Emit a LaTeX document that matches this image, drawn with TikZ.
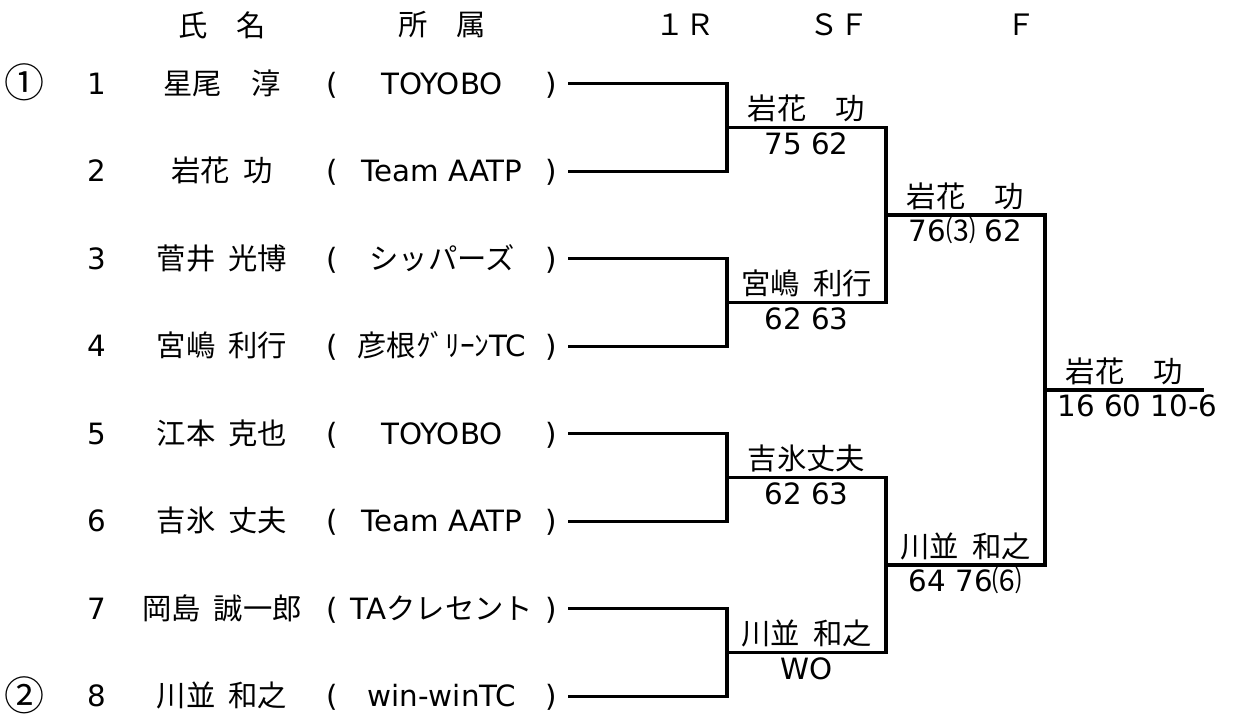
\documentclass[tikz,border=0pt]{standalone}
\usepackage{fontspec}
\setmainfont{DejaVu Sans}
\newfontfamily\jp[WordSpace=2]{Noto Sans CJK JP}

\tikzset{
  row/.style = {anchor=base, yshift=-8pt},
  seed/.style = {row, xshift=-408pt, yshift=-2.5pt},
  win/.style = {anchor=base, xshift=59.6pt, yshift=6pt},
  res/.style = {anchor=base, xshift=59.6pt, yshift=-20pt}
}

\begin{document}
\begin{tikzpicture}[x=0.75pt, y=-0.75pt, line width=2.3pt,
  font=\fontsize{22pt}{26pt}\selectfont,
  grow=left, level distance=119.25pt,
  level 1/.style={sibling distance=262.5pt},
  level 2/.style={sibling distance=131.25pt},
  level 3/.style={sibling distance=65.625pt},
  edge from parent path={(\tikzparentnode) |- (\tikzchildnode)}]

  \useasboundingbox (0,0) rectangle (1252,715);

  % header
  \node (hname) at (222,25) {\jp 氏　名};
  \node (hclub) at (442,25) {\jp 所　属};
  \node (hr1) at (685,25) {\jp １Ｒ};
  \node (hsf) at (839,25) {\jp ＳＦ};
  \node (hf) at (1021,25) {\jp Ｆ};

  % draw
  \node[coordinate] (top) at (1045,390) {}
    child { node[coordinate] (f1) {}
      child { node[coordinate] (sf1) {}
        child { node[coordinate] (r1) {} }
        child { node[coordinate] (r2) {} } }
      child { node[coordinate] (sf2) {}
        child { node[coordinate] (r3) {} }
        child { node[coordinate] (r4) {} } } }
    child { node[coordinate] (f2) {}
      child { node[coordinate] (sf3) {}
        child { node[coordinate] (r5) {} }
        child { node[coordinate] (r6) {} } }
      child { node[coordinate] (sf4) {}
        child { node[coordinate] (r7) {} }
        child { node[coordinate] (r8) {} } } };
  \coordinate (champ) at (1204,390);
  \draw (top) -- (champ);

  % players
  \foreach \i/\nm/\club in {1/{星尾　淳}/TOYOBO, 2/{岩花 功}/Team AATP,
      3/{菅井 光博}/{\jp シッパーズ}, 4/{宮嶋 利行}/{{\jp 彦根ｸﾞﾘｰﾝ}TC},
      5/{江本 克也}/TOYOBO, 6/{吉氷 丈夫}/Team AATP,
      7/{岡島 誠一郎}/{TA{\jp クレセント}}, 8/{川並 和之}/win-winTC} {
    \node[row, xshift=-353.25pt] (num\i) at (r\i) {\i};
    \node[row, xshift=-259.5pt] (name\i) at (r\i) {\jp\nm};
    \node[row, xshift=-177pt] (lp\i) at (r\i) {(};
    \node[row, xshift=-94.5pt] (club\i) at (r\i) {\club};
    \node[row, xshift=-12.75pt] (rp\i) at (r\i) {)};
  }
  \node[seed] (seed1) at (r1) {\jp\fontsize{30pt}{30pt}\selectfont ①};
  \node[seed] (seed2) at (r8) {\jp\fontsize{30pt}{30pt}\selectfont ②};

  % results
  \node[win] (sf1w) at (sf1) {\jp 岩花　功};
  \node[res] (sf1s) at (sf1) {75 62};
  \node[win] (sf2w) at (sf2) {\jp 宮嶋 利行};
  \node[res] (sf2s) at (sf2) {62 63};
  \node[win] (sf3w) at (sf3) {\jp 吉氷丈夫};
  \node[res] (sf3s) at (sf3) {62 63};
  \node[win] (sf4w) at (sf4) {\jp 川並 和之};
  \node[res] (sf4s) at (sf4) {WO};
  \node[win] (f1w) at (f1) {\jp 岩花　功};
  \node[res] (f1s) at (f1) {76{\jp ⑶} 62};
  \node[win] (f2w) at (f2) {\jp 川並 和之};
  \node[res] (f2s) at (f2) {64 76{\jp ⑹}};
  \node[win] (topw) at (top) {\jp 岩花　功};
  \node[anchor=base west, xshift=5pt, yshift=-20pt] (tops) at (top) {16 60 10-6};
\end{tikzpicture}
\end{document}
